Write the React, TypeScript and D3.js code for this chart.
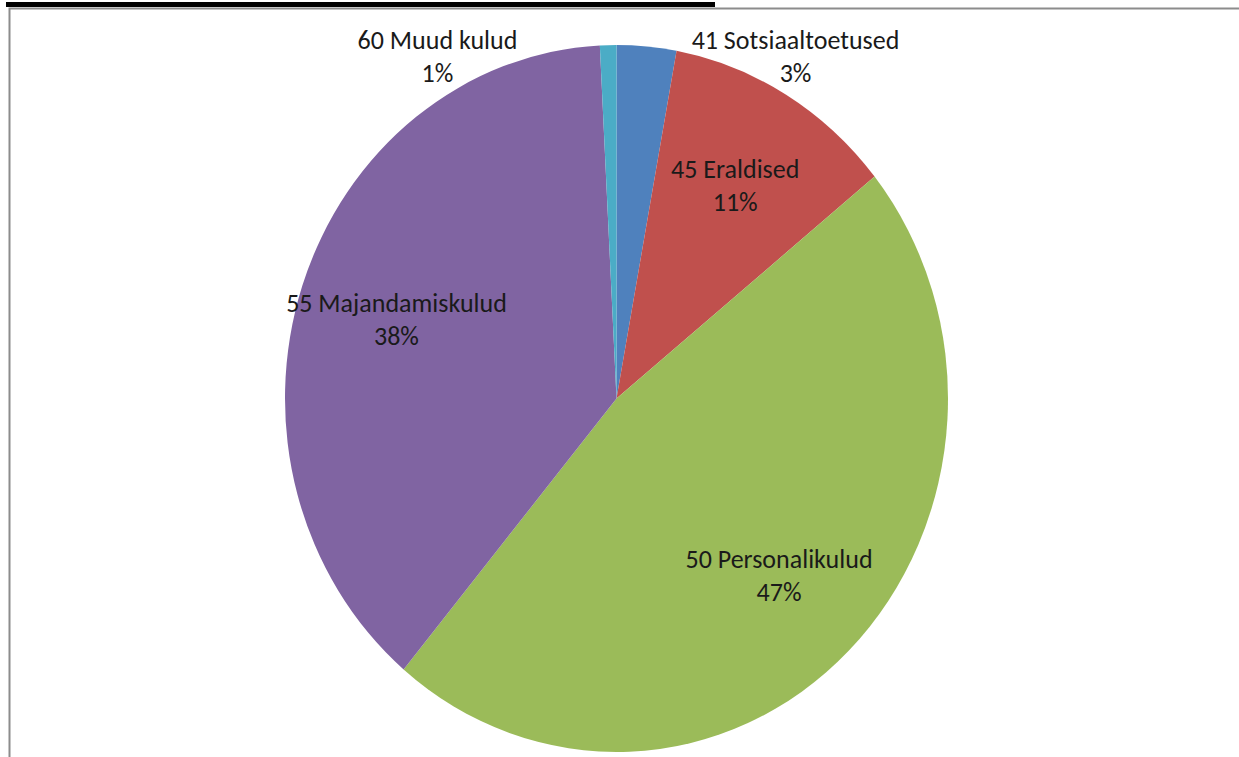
import React from "react";
import * as d3 from "d3";

// kulud liikide kaupa (%)
const categories = [
  "41 Sotsiaaltoetused",
  "45 Eraldised",
  "50 Personalikulud",
  "55 Majandamiskulud",
  "60 Muud kulud",
];
const shares = [2.9, 11.3, 46.9, 38.1, 0.8];
const colors = ["#4F81BD", "#C0504D", "#9BBB59", "#8064A2", "#4BACC6"];

const W = 1239;
const H = 757;
const cx = 616.5;
const cy = 398.5;
const rx = 331.5;
const ry = 353.5;
const font = "Carlito, Calibri, Lato, sans-serif";

export default function App() {
  const total = d3.sum(shares);
  const data = categories.map((name, i) => ({ name, value: shares[i], color: colors[i] }));
  const pie = d3.pie<any>().value((d) => d.value).sort(null);
  const arcs = pie(data);
  const arc = d3.arc<any>().innerRadius(0).outerRadius(rx);
  const sy = ry / rx;

  const labels = arcs.map((a) => {
    const pct = Math.round((a.data.value / total) * 100) + "%";
    const mid = (a.startAngle + a.endAngle) / 2;
    if (a.endAngle - a.startAngle < 0.3) {
      // väikesed sektorid: silt väljaspool, ülal
      const side = Math.sin(mid) >= 0 ? 1 : -1;
      return { x: cx + side * rx * 0.54, y: cy - ry + 11, name: a.data.name, pct };
    }
    const r = rx * 0.7;
    return { x: cx + r * Math.sin(mid), y: cy - r * Math.cos(mid) * sy, name: a.data.name, pct };
  });

  return (
    <svg
      width={W}
      height={H}
      style={{ position: "absolute", left: 0, top: 0, background: "#fff" }}
    >
      <rect x={6} y={2} width={709} height={5} fill="#000" />
      <path d={`M9.5,${H} V8.5 H${W}`} fill="none" stroke="#8c8c8c" strokeWidth={2} />
      <g transform={`translate(${cx},${cy}) scale(1,${sy})`}>
        {arcs.map((a, i) => (
          <path key={i} d={arc(a) as string} fill={a.data.color} />
        ))}
      </g>
      {labels.map((l, i) => (
        <text
          key={i}
          x={l.x}
          y={l.y}
          textAnchor="middle"
          fontFamily={font}
          fontSize={26}
          fill="#1a1a1a"
        >
          <tspan x={l.x} dy={-16.5 + 9}>{l.name}</tspan>
          <tspan x={l.x} dy={33}>{l.pct}</tspan>
        </text>
      ))}
    </svg>
  );
}
